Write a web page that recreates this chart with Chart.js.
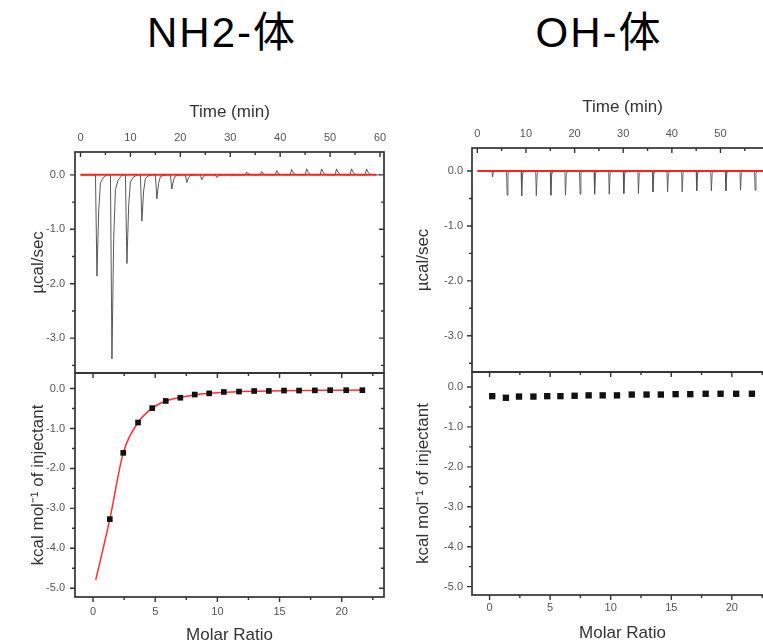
<!DOCTYPE html>
<html>
<head>
<meta charset="utf-8">
<script src="https://cdn.jsdelivr.net/npm/chart.js@4.4.1/dist/chart.umd.min.js"></script>
<style>
  html, body { margin: 0; padding: 0; width: 763px; height: 644px; overflow: hidden; background: #fff; }
  body { position: relative; font-family: "Liberation Sans", Arial, "Noto Sans CJK SC", sans-serif; }
  canvas { position: absolute; left: 0; top: 0; }
  .panel-title { position: absolute; top: 12px; width: 240px; font-size: 42px; line-height: 42px;
                 letter-spacing: 2px; color: #000; text-align: center; white-space: nowrap; }
</style>
</head>
<body>
<div class="panel-title" style="left:102px">NH2-体</div>
<div class="panel-title" style="left:479px">OH-体</div>
<canvas id="nh2Raw" width="800" height="660"></canvas>
<canvas id="nh2Heat" width="800" height="660"></canvas>
<canvas id="ohRaw" width="800" height="660"></canvas>
<canvas id="ohHeat" width="800" height="660"></canvas>
<script>
// injections every 3 min, 19 in total
const injectionTimes = [3, 6, 9, 12, 15, 18, 21, 24, 27, 30, 33, 36, 39, 42, 45, 48, 51, 54, 57];
const nh2PeakHeights = [-1.86, -3.38, -1.63, -0.85, -0.44, -0.26, -0.14, -0.09, -0.05, -0.02,
                        0.05, 0.06, 0.08, 0.10, 0.11, 0.11, 0.11, 0.11, 0.11];
const ohPeakHeights = [-0.11, -0.44, -0.45, -0.45, -0.44, -0.44, -0.42, -0.42, -0.42, -0.41,
                       -0.41, -0.38, -0.38, -0.38, -0.36, -0.36, -0.36, -0.35, -0.35];
// shape of one injection peak: minutes after injection, fraction of peak height
const nh2PeakOffsets = [0, 0.3, 0.65, 1.0, 1.55, 2.4];
const nh2PeakFractions = [0, 1, 0.35, 0.08, 0.027, 0];
const ohPeakOffsets = [0, 0.12, 0.3, 0.6];
const ohPeakFractions = [0, 1, 0.12, 0];
const baselineTimes = [0, 59.3];

const molarRatio = [0.22, 1.35, 2.43, 3.62, 4.76, 5.85, 7.02, 8.18, 9.34, 10.52,
                    11.74, 12.96, 14.14, 15.36, 16.57, 17.84, 19.07, 20.36, 21.66];
const nh2Heat = [null, -3.27, -1.61, -0.85, -0.49, -0.31, -0.23, -0.15, -0.12, -0.085,
                 -0.075, -0.06, -0.06, -0.05, -0.05, -0.045, -0.04, -0.04, -0.04];
const nh2Fit = [-4.79, -3.27, -1.61, -0.85, -0.49, -0.31, -0.22, -0.16, -0.12, -0.09,
                -0.075, -0.065, -0.058, -0.052, -0.048, -0.045, -0.042, -0.04, -0.038];
const ohHeat = [-0.23, -0.27, -0.24, -0.24, -0.23, -0.23, -0.22, -0.21, -0.21, -0.21,
                -0.19, -0.19, -0.19, -0.18, -0.18, -0.17, -0.17, -0.17, -0.17];

Chart.defaults.font.family = "'Liberation Sans', Arial, sans-serif";

function buildTrace(heights, offsets, fractions) {
  const pts = [{ x: 0, y: 0 }];
  injectionTimes.forEach((t, i) => {
    offsets.forEach((dt, k) => pts.push({ x: t + dt, y: heights[i] * fractions[k] }));
  });
  pts.push({ x: 60, y: 0 });
  return pts;
}
function pairs(xs, ys) {
  return xs.map((x, i) => ({ x: x, y: ys[i] })).filter(p => p.y !== null);
}

// box round the plot plus Origin-style major/minor ticks
const framePlugin = {
  id: 'frame',
  afterDraw(chart, args, opts) {
    const { ctx, chartArea: a } = chart;
    const marks = (scale) => {
      const vals = scale.ticks.map(t => t.value);
      const step = vals[1] - vals[0];
      const out = vals.map(v => [v, 5]);
      vals.forEach(v => out.push([v + step / 2, 3]));
      out.push([vals[0] - step / 2, 3]);
      return out.filter(m => m[0] >= scale.min && m[0] <= scale.max);
    };
    ctx.save();
    ctx.strokeStyle = '#333';
    ctx.lineWidth = 1.7;
    ctx.strokeRect(a.left, a.top, a.right - a.left, a.bottom - a.top);
    ctx.lineWidth = 1.4;
    ctx.beginPath();
    const sides = opts.sides || {};
    ['top', 'bottom'].forEach(side => {
      if (!sides[side]) return;
      const y0 = side === 'top' ? a.top : a.bottom;
      let dir = side === 'top' ? 1 : -1;
      if (sides[side] === 'out') dir = -dir;
      marks(chart.scales.x).forEach(([v, len]) => {
        const px = chart.scales.x.getPixelForValue(v);
        ctx.moveTo(px, y0);
        ctx.lineTo(px, y0 + dir * len);
      });
    });
    ['left', 'right'].forEach(side => {
      if (!sides[side]) return;
      const x0 = side === 'left' ? a.left : a.right;
      let dir = side === 'left' ? 1 : -1;
      if (sides[side] === 'out') dir = -dir;
      marks(chart.scales.y).forEach(([v, len]) => {
        const py = chart.scales.y.getPixelForValue(v);
        ctx.moveTo(x0, py);
        ctx.lineTo(x0 + dir * len, py);
      });
    });
    ctx.stroke();
    ctx.restore();
  }
};

function buildChart(id, o) {
  return new Chart(document.getElementById(id), {
    type: 'scatter',
    data: { datasets: o.datasets },
    options: {
      responsive: false,
      animation: false,
      devicePixelRatio: 1,
      events: [],
      layout: { padding: o.padding },
      plugins: {
        legend: { display: false },
        tooltip: { enabled: false },
        frame: { sides: o.sides }
      },
      scales: {
        x: {
          type: 'linear', position: o.xPos, min: o.xMin, max: o.xMax,
          afterFit: s => { s.height = o.xSize; },
          grid: { display: false, drawTicks: false },
          border: { display: false },
          ticks: { stepSize: o.xStep, includeBounds: false, autoSkip: false, maxRotation: 0,
                   padding: o.xTickPad, color: '#555', font: { size: 11 },
                   callback: v => String(v) },
          title: { display: true, text: o.xTitle, color: '#333', font: { size: 17 }, padding: 0 }
        },
        y: {
          type: 'linear', position: 'left', min: o.yMin, max: o.yMax,
          afterFit: s => { s.width = o.ySize; },
          grid: { display: false, drawTicks: false },
          border: { display: false },
          ticks: { stepSize: 1, includeBounds: false, autoSkip: false,
                   padding: o.yTickPad, color: '#555', font: { size: 11 },
                   callback: v => v.toFixed(1) },
          title: { display: true, text: o.yTitle, color: '#333', font: { size: 17 }, padding: 0 }
        }
      }
    },
    plugins: [framePlugin]
  });
}

const timeMin = -1.1, timeMax = 60.8;
const ratioMin = -1.45, ratioMax = 23.4;

// ===== NH2 raw thermogram =====
buildChart('nh2Raw', {
  padding: { left: 28, right: 416, top: 102, bottom: 287 },
  xPos: 'top', xMin: timeMin, xMax: timeMax, xStep: 10, xSize: 50, xTickPad: 7, xTitle: 'Time (min)',
  yMin: -3.64, yMax: 0.42, ySize: 47, yTickPad: 10, yTitle: 'µcal/sec',
  sides: { top: 'in', left: 'out', right: 'in' },
  datasets: [
    { data: pairs(baselineTimes, [0, 0]), showLine: true, pointRadius: 0,
      borderColor: '#ff2020', borderWidth: 2, order: 0 },
    { data: buildTrace(nh2PeakHeights, nh2PeakOffsets, nh2PeakFractions), showLine: true, pointRadius: 0,
      borderColor: 'rgba(70,70,70,0.9)', borderWidth: 1, order: 1 }
  ]
});

// ===== NH2 integrated heats =====
buildChart('nh2Heat', {
  padding: { left: 28, right: 416, top: 373, bottom: 14 },
  xPos: 'bottom', xMin: ratioMin, xMax: ratioMax, xStep: 5, xSize: 49, xTickPad: 8, xTitle: 'Molar Ratio',
  yMin: -5.22, yMax: 0.39, ySize: 47, yTickPad: 10, yTitle: 'kcal mol⁻¹ of injectant',
  sides: { top: 'in', bottom: 'out', left: 'out', right: 'in' },
  datasets: [
    { data: pairs(molarRatio, nh2Heat), pointStyle: 'rect', pointRadius: 4,
      backgroundColor: '#111', borderColor: '#111', borderWidth: 0, order: 0 },
    { data: pairs(molarRatio, nh2Fit), showLine: true, pointRadius: 0, cubicInterpolationMode: 'monotone',
      borderColor: '#ff3030', borderWidth: 1.5, order: 1 }
  ]
});

// ===== OH raw thermogram =====
buildChart('ohRaw', {
  padding: { left: 413, right: 27, top: 97, bottom: 288 },
  xPos: 'top', xMin: timeMin, xMax: timeMax, xStep: 10, xSize: 51, xTickPad: 7, xTitle: 'Time (min)',
  yMin: -3.66, yMax: 0.42, ySize: 59, yTickPad: 9, yTitle: 'µcal/sec',
  sides: { top: 'in', left: 'out', right: 'in' },
  datasets: [
    { data: pairs(baselineTimes, [0, 0]), showLine: true, pointRadius: 0,
      borderColor: '#ff2020', borderWidth: 2, order: 0 },
    { data: buildTrace(ohPeakHeights, ohPeakOffsets, ohPeakFractions), showLine: true, pointRadius: 0,
      borderColor: 'rgba(80,80,80,0.85)', borderWidth: 1, order: 1 }
  ]
});

// ===== OH integrated heats =====
buildChart('ohHeat', {
  padding: { left: 413, right: 27, top: 372, bottom: 16 },
  xPos: 'bottom', xMin: ratioMin, xMax: ratioMax, xStep: 5, xSize: 49, xTickPad: 6, xTitle: 'Molar Ratio',
  yMin: -5.21, yMax: 0.375, ySize: 59, yTickPad: 9, yTitle: 'kcal mol⁻¹ of injectant',
  sides: { top: 'in', bottom: 'out', left: 'out', right: 'in' },
  datasets: [
    { data: pairs(molarRatio, ohHeat), pointStyle: 'rect', pointRadius: 4.5,
      backgroundColor: '#111', borderColor: '#111', borderWidth: 0, order: 0 }
  ]
});
</script>
</body>
</html>
